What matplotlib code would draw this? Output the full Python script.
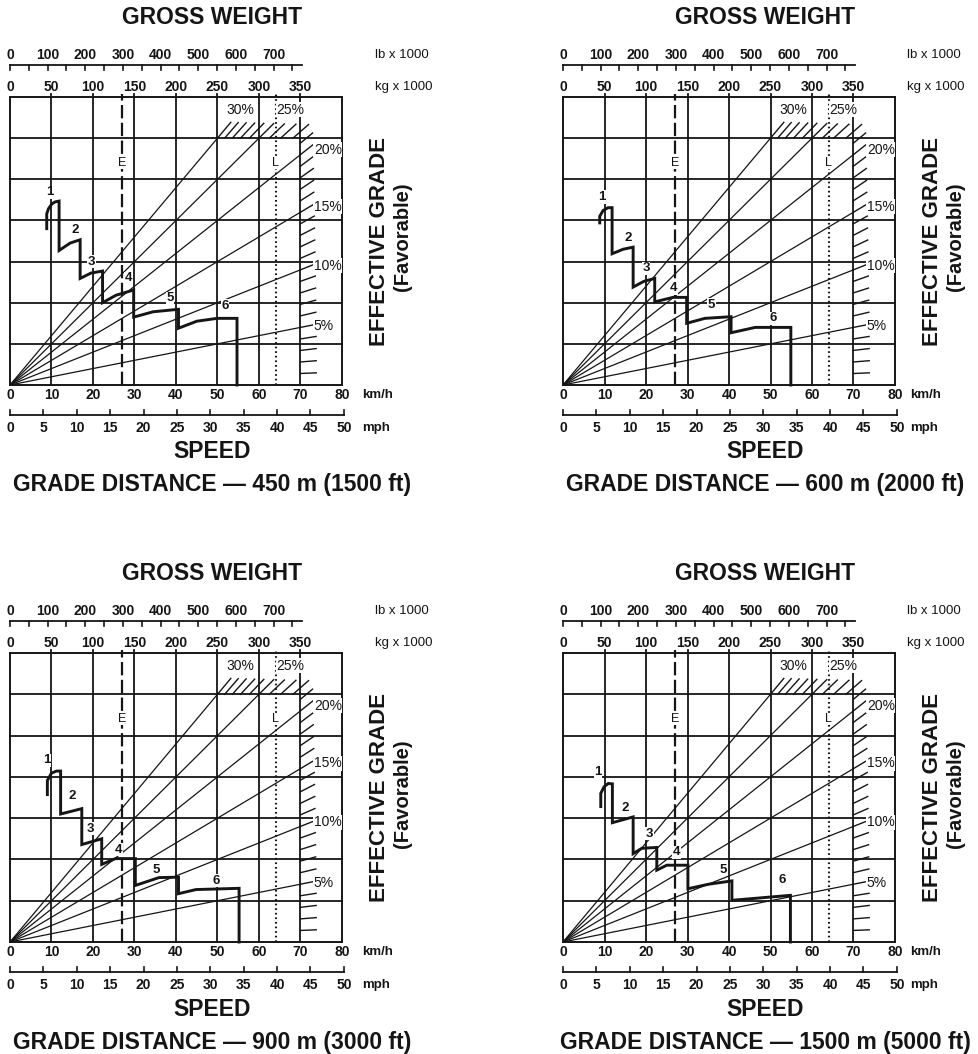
import numpy as np
import matplotlib.pyplot as plt

plt.rcParams['font.family'] = ['Liberation Sans', 'DejaVu Sans']

W, H = 979, 1054
INK = '#151515'

# axis scales
speed_kmh = [0, 10, 20, 30, 40, 50, 60, 70, 80]
speed_mph = [0, 5, 10, 15, 20, 25, 30, 35, 40, 45, 50]
weight_kg = [0, 50, 100, 150, 200, 250, 300, 350]
weight_lb = [0, 100, 200, 300, 400, 500, 600, 700]
KG_PER_KMH = 5.0          # 350 kg x 1000 lines up with 70 km/h
KG_PER_LB = 0.4536
KMH_PER_MPH = 1.609

# effective grade rays (rows per column per % grade)
GRADE_SCALE = 0.04
grade_lines = [5, 10, 15, 20, 25, 30]
grade_ticks = list(range(1, 31))
grade_label_pos = {30: (55.5, 6.69), 25: (67.5, 6.69), 20: (73.2, 5.72),
                   15: (73.2, 4.33), 10: (73.2, 2.90), 5: (73.2, 1.43)}

e_speed = 27
l_speed = 64

distances = ['450 m (1500 ft)', '600 m (2000 ft)',
             '900 m (3000 ft)', '1500 m (5000 ft)']

# retarder curves, gears 1-6 (x in km/h, y in grid rows)
curve1_x = [8.85, 8.85, 9.25, 10.06, 10.86, 11.83, 11.83, 14.5, 16.9, 16.9, 19.5, 22.3,
            22.3, 25.5, 29.8, 29.8, 34.5, 40.6, 40.6, 45.0, 49.9, 54.7, 54.7]
curve1_y = [3.80, 4.16, 4.28, 4.40, 4.45, 4.47, 3.27, 3.45, 3.53, 2.59, 2.72, 2.77,
            2.00, 2.18, 2.31, 1.65, 1.78, 1.84, 1.38, 1.55, 1.62, 1.62, 0.0]
curve2_x = [8.85, 8.85, 9.65, 10.86, 11.83, 11.83, 14.5, 16.9, 16.9, 19.5, 22.1, 22.1,
            26.5, 29.8, 29.8, 34.2, 40.5, 40.5, 46.3, 54.9, 54.9]
curve2_y = [3.94, 4.10, 4.24, 4.31, 4.31, 3.19, 3.30, 3.35, 2.38, 2.52, 2.59, 2.02,
            2.13, 2.13, 1.50, 1.62, 1.66, 1.27, 1.40, 1.40, 0.0]
curve3_x = [9.0, 9.0, 9.98, 11.2, 12.2, 12.2, 17.3, 17.3, 22.1, 22.1, 25.4, 30.2,
            30.2, 35.9, 40.6, 40.6, 44.8, 55.2, 55.2]
curve3_y = [3.57, 3.91, 4.09, 4.14, 4.14, 3.10, 3.23, 2.36, 2.50, 1.88, 2.02, 2.02,
            1.37, 1.56, 1.57, 1.17, 1.27, 1.30, 0.0]
curve4_x = [9.1, 9.1, 9.9, 10.9, 11.9, 11.9, 16.9, 16.9, 19.0, 22.6, 22.6, 25.0,
            30.1, 30.1, 35.1, 40.7, 40.7, 54.8, 54.8]
curve4_y = [3.28, 3.60, 3.76, 3.84, 3.83, 2.89, 3.03, 2.14, 2.27, 2.29, 1.74, 1.86,
            1.86, 1.29, 1.40, 1.48, 1.01, 1.13, 0.0]

# gear number positions
gears1 = [(9.5, 4.68), (15.7, 3.77), (19.7, 3.0), (28.5, 2.6), (38.6, 2.11), (51.8, 1.92)]
gears2 = [(9.3, 4.57), (15.7, 3.57), (20.0, 2.84), (26.7, 2.35), (35.8, 1.95), (50.7, 1.62)]
gears3 = [(8.8, 4.40), (15.1, 3.53), (19.3, 2.74), (26.1, 2.23), (35.3, 1.75), (49.8, 1.48)]
gears4 = [(8.5, 4.11), (14.9, 3.25), (20.9, 2.62), (27.4, 2.17), (38.5, 1.75), (52.8, 1.49)]

# panel frames in pixels: left, top, right, bottom
panels = [
    ((10, 97, 342, 385), curve1_x, curve1_y, gears1, distances[0], 375, 362),
    ((563, 97, 895, 385), curve2_x, curve2_y, gears2, distances[1], 907, 910),
    ((10, 653, 342, 942), curve3_x, curve3_y, gears3, distances[2], 375, 362),
    ((563, 653, 895, 942), curve4_x, curve4_y, gears4, distances[3], 907, 910),
]

fig = plt.figure(figsize=(W / 100, H / 100), dpi=100)


def draw_panel(rect, cx, cy, gears, dist, unit_lb_px, unit_kmh_px):
    l, t, r, b = rect
    ax = fig.add_axes([l / W, 1 - b / H, (r - l) / W, (b - t) / H])
    ax.set_xlim(0, 80)
    ax.set_ylim(0, 7)
    ax.set_xticks([])
    ax.set_yticks([])
    for sp in ax.spines.values():
        sp.set_linewidth(1.4)
        sp.set_color(INK)
    pxx = (r - l) / 80.0
    pxy = (b - t) / 7.0

    def dy(px):
        return px / pxy

    def dx_abs(px):
        return (px - l) / pxx

    kw = dict(color=INK, clip_on=False)

    # grid
    for v in speed_kmh[1:-1]:
        ax.plot([v, v], [0, 7 + dy(3)], lw=1.3, **kw)
    for row in range(1, 7):
        ax.plot([0, 80], [row, row], lw=1.3, **kw)

    # grade rays from origin
    for g in grade_lines:
        s = GRADE_SCALE * g
        xb = min(7.0, 6.0 / s)
        ax.plot([0, 10 * xb], [0, s * xb], lw=0.9, **kw)
    # per-percent hatch marks along the limit boundary
    for g in grade_ticks:
        s = GRADE_SCALE * g
        xb = min(7.0, 6.0 / s)
        length = 0.5 if xb < 7.0 else 0.38
        ux, uy = 1 / np.hypot(1, s), s / np.hypot(1, s)
        ax.plot([10 * xb, 10 * (xb + length * ux)], [s * xb, s * xb + length * uy],
                lw=1.0, **kw)
    for g, (gx, gy) in grade_label_pos.items():
        ha = 'center' if g >= 25 else 'left'
        ax.text(gx, gy, f'{g}%', fontsize=10, ha=ha, va='center', color=INK,
                bbox=dict(facecolor='white', edgecolor='none', pad=0.3), zorder=6)

    # E and L speed limits
    ax.plot([e_speed, e_speed], [0, 7 + dy(3)], lw=1.6, dashes=(6, 2), **kw)
    ax.plot([l_speed, l_speed], [0, 7 + dy(3)], lw=1.5, dashes=(0.8, 1.4), **kw)
    for v, s in ((e_speed, 'E'), (l_speed, 'L')):
        ax.text(v, 5.4, s, fontsize=9, ha='center', va='center', color=INK,
                bbox=dict(facecolor='white', edgecolor='none', pad=0.2), zorder=6)

    # retarder curve
    ax.plot(cx, cy, lw=2.1, color=INK, solid_joinstyle='miter', zorder=5, clip_on=False)
    for i, (gx, gy) in enumerate(gears):
        ax.text(gx, gy, str(i + 1), fontsize=9.5, fontweight='bold', ha='center',
                va='center', color=INK, zorder=7,
                bbox=dict(facecolor='white', edgecolor='none', pad=0.4))

    # top scales: kg and lb x 1000
    for kg in weight_kg:
        ax.text(kg / KG_PER_KMH, 7 + dy(10), str(kg), fontsize=10, fontweight='bold',
                ha='center', va='center', color=INK)
    lb_y = 7 + dy(32)
    ax.plot([0, 775 * KG_PER_LB / KG_PER_KMH], [lb_y, lb_y], lw=1.3, **kw)
    for lb in range(0, 800, 50):
        xv = lb * KG_PER_LB / KG_PER_KMH
        ax.plot([xv, xv], [lb_y, lb_y - dy(5)], lw=1.2, **kw)
    for lb in weight_lb:
        ax.text(lb * KG_PER_LB / KG_PER_KMH, 7 + dy(42), str(lb), fontsize=10,
                fontweight='bold', ha='center', va='center', color=INK)
    ax.text(dx_abs(unit_lb_px), 7 + dy(42), 'lb x 1000', fontsize=9.5, ha='left',
            va='center', color=INK)
    ax.text(dx_abs(unit_lb_px), 7 + dy(10), 'kg x 1000', fontsize=9.5, ha='left',
            va='center', color=INK)
    ax.text(48.8, 7 + dy(80), 'GROSS WEIGHT', fontsize=16.5, fontweight='bold',
            ha='center', va='center', color=INK)

    # bottom scales: km/h and mph
    for v in speed_kmh:
        ax.text(v, -dy(10), str(v), fontsize=10, fontweight='bold', ha='center',
                va='center', color=INK)
    ax.text(dx_abs(unit_kmh_px), -dy(10), 'km/h', fontsize=9.5, fontweight='bold',
            ha='left', va='center', color=INK)
    mph_y = -dy(30)
    ax.plot([0, 50 * KMH_PER_MPH], [mph_y, mph_y], lw=1.3, **kw)
    for m in speed_mph:
        ax.plot([m * KMH_PER_MPH] * 2, [mph_y, mph_y + dy(5)], lw=1.2, **kw)
        ax.text(m * KMH_PER_MPH, -dy(43), str(m), fontsize=10, fontweight='bold',
                ha='center', va='center', color=INK)
    ax.text(dx_abs(unit_kmh_px), -dy(43), 'mph', fontsize=9.5, fontweight='bold',
            ha='left', va='center', color=INK)
    ax.text(48.8, -dy(67), 'SPEED', fontsize=16.5, fontweight='bold', ha='center',
            va='center', color=INK)
    ax.text(48.8, -dy(100), 'GRADE DISTANCE \u2014 ' + dist, fontsize=16.5,
            fontweight='bold', ha='center', va='center', color=INK)

    # right-hand axis title
    ax.text(80 + 38 / pxx, 3.5, 'EFFECTIVE GRADE', fontsize=16, fontweight='bold',
            rotation=90, ha='center', va='center', color=INK)
    ax.text(80 + 61 / pxx, 3.6, '(Favorable)', fontsize=14.5, fontweight='bold',
            rotation=90, ha='center', va='center', color=INK)


for rect, cx, cy, gears, dist, ulb, ukmh in panels:
    draw_panel(rect, cx, cy, gears, dist, ulb, ukmh)

fig.savefig('out.png', dpi=100, facecolor='white')
